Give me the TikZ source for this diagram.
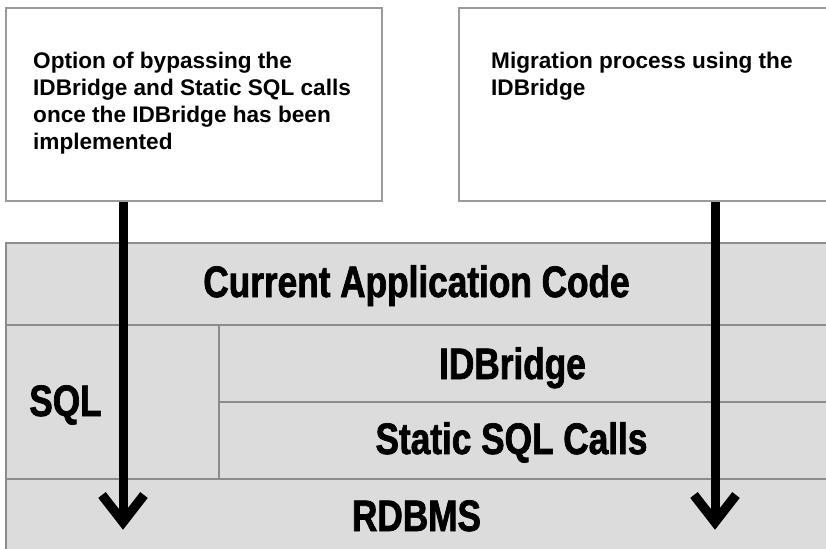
\documentclass[tikz,border=0pt]{standalone}
\usepackage{fontspec}
\setmainfont{Liberation Sans}
\newfontfamily\condfont[FakeStretch=0.8,FakeBold=1.6]{Liberation Sans}
\definecolor{bandgray}{HTML}{DCDCDC}
\definecolor{rulegray}{HTML}{8C8C8C}
\definecolor{boxgray}{HTML}{9A9A9A}
\begin{document}
\begin{tikzpicture}[x=1pt,y=-1pt,
  notebox/.style={draw=boxgray,line width=1.6pt,fill=white,inner sep=0pt,anchor=north west},
  notetext/.style={anchor=north west,inner sep=0pt,align=left,font=\fontsize{22.6}{27.3}\selectfont\bfseries},
  layer/.style={draw=rulegray,line width=1.6pt,fill=bandgray,inner sep=0pt,anchor=north west},
  bigtext/.style={anchor=base,inner sep=0pt,font=\condfont\fontsize{44}{48}\selectfont\bfseries},
  shaft/.style={line width=9pt,line cap=butt},
  barb/.style={line width=9.5pt,line join=miter,line cap=butt}]
\useasboundingbox[fill=white] (0,0) rectangle (826,548);
% top notes
\node[notebox,minimum width=376pt,minimum height=193pt] (left) at (5,7) {};
\node[notebox,minimum width=380pt,minimum height=193pt] (right) at (458,7) {};
\node[notetext] (lefttext) at (33,51.5) {Option of bypassing the\\IDBridge and Static SQL calls\\once the IDBridge has been\\implemented};
\node[notetext] (righttext) at (491,51.5) {Migration process using the\\IDBridge};
% layers
\node[layer,minimum width=830pt,minimum height=82pt] (app) at (5,242) {};
\node[layer,minimum width=213pt,minimum height=154pt] (sql) at (5,324) {};
\node[layer,minimum width=620pt,minimum height=77pt] (idb) at (218,324) {};
\node[layer,minimum width=620pt,minimum height=77pt] (static) at (218,401) {};
\node[layer,minimum width=830pt,minimum height=80pt] (rdbms) at (5,478) {};
\node[bigtext] (apptext) at (416.5,297) {Current Application Code};
\node[bigtext] (sqltext) at (65.5,416) {SQL};
\node[bigtext] (idbtext) at (512.5,379) {IDBridge};
\node[bigtext] (statictext) at (511.5,454) {Static SQL Calls};
\node[bigtext] (rdbmstext) at (416.5,531) {RDBMS};
% arrows
\coordinate (tipL) at (123,522);
\coordinate (tipR) at (715,522);
\draw[shaft] (left.south -| tipL) -- (tipL);
\draw[barb] ([shift={(-21,-27)}]tipL) -- (tipL) -- ([shift={(21,-27)}]tipL);
\draw[shaft] (right.south -| tipR) -- (tipR);
\draw[barb] ([shift={(-21,-27)}]tipR) -- (tipR) -- ([shift={(21,-27)}]tipR);
\end{tikzpicture}
\end{document}
